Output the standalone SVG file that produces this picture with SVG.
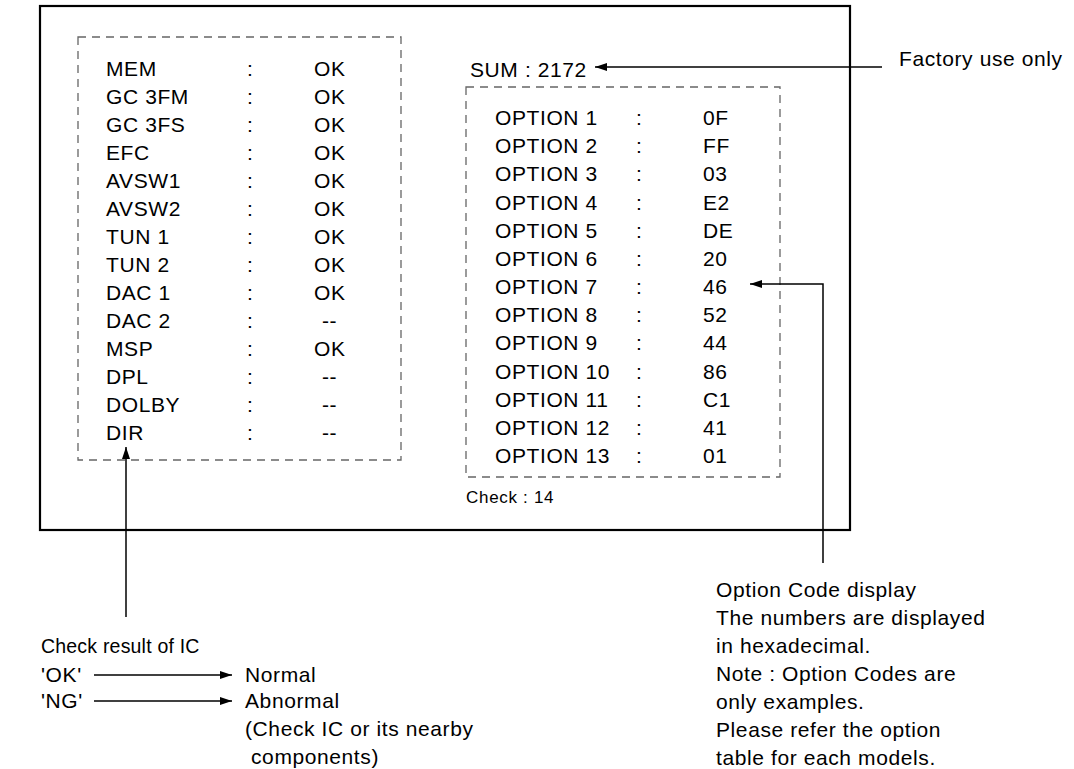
<svg xmlns="http://www.w3.org/2000/svg" width="1074" height="769" viewBox="0 0 1074 769">
<style>
text{font-family:"Liberation Sans",Arial,sans-serif;font-size:21px;letter-spacing:0.6px;fill:#000}
.sm{font-size:17px;letter-spacing:0.7px}
.dash{fill:none;stroke:#666;stroke-width:1.3;stroke-dasharray:8 6}
.ln{fill:none;stroke:#000;stroke-width:1.5}
</style>
<defs>
<marker id="ah" viewBox="0 0 12 8" refX="12" refY="4" markerWidth="12" markerHeight="8" markerUnits="userSpaceOnUse" orient="auto">
<path d="M0,0 L12,4 L0,8 Z" fill="#000"/>
</marker>
</defs>
<g id="screen">
<rect x="40" y="6" width="810" height="524" fill="none" stroke="#000" stroke-width="2.2"/>
</g>
<g id="ic-list">
<rect class="dash" x="78" y="37" width="323" height="423"/>
<g>
<text x="106" y="76">MEM</text><text x="247" y="76">:</text><text x="314" y="76">OK</text>
<text x="106" y="104">GC 3FM</text><text x="247" y="104">:</text><text x="314" y="104">OK</text>
<text x="106" y="132">GC 3FS</text><text x="247" y="132">:</text><text x="314" y="132">OK</text>
<text x="106" y="160">EFC</text><text x="247" y="160">:</text><text x="314" y="160">OK</text>
<text x="106" y="188">AVSW1</text><text x="247" y="188">:</text><text x="314" y="188">OK</text>
<text x="106" y="216">AVSW2</text><text x="247" y="216">:</text><text x="314" y="216">OK</text>
<text x="106" y="244">TUN 1</text><text x="247" y="244">:</text><text x="314" y="244">OK</text>
<text x="106" y="272">TUN 2</text><text x="247" y="272">:</text><text x="314" y="272">OK</text>
<text x="106" y="300">DAC 1</text><text x="247" y="300">:</text><text x="314" y="300">OK</text>
<text x="106" y="328">DAC 2</text><text x="247" y="328">:</text><text x="322" y="328">--</text>
<text x="106" y="356">MSP</text><text x="247" y="356">:</text><text x="314" y="356">OK</text>
<text x="106" y="384">DPL</text><text x="247" y="384">:</text><text x="322" y="384">--</text>
<text x="106" y="412">DOLBY</text><text x="247" y="412">:</text><text x="322" y="412">--</text>
<text x="106" y="440">DIR</text><text x="247" y="440">:</text><text x="322" y="440">--</text>
</g>
</g>
<g id="sum">
<text x="470" y="77">SUM : 2172</text>
</g>
<g id="option-list">
<rect class="dash" x="466" y="87" width="314" height="390"/>
<text x="495" y="125">OPTION 1</text><text x="636" y="125">:</text><text x="703" y="125">0F</text>
<text x="495" y="153">OPTION 2</text><text x="636" y="153">:</text><text x="703" y="153">FF</text>
<text x="495" y="181">OPTION 3</text><text x="636" y="181">:</text><text x="703" y="181">03</text>
<text x="495" y="210">OPTION 4</text><text x="636" y="210">:</text><text x="703" y="210">E2</text>
<text x="495" y="238">OPTION 5</text><text x="636" y="238">:</text><text x="703" y="238">DE</text>
<text x="495" y="266">OPTION 6</text><text x="636" y="266">:</text><text x="703" y="266">20</text>
<text x="495" y="294">OPTION 7</text><text x="636" y="294">:</text><text x="703" y="294">46</text>
<text x="495" y="322">OPTION 8</text><text x="636" y="322">:</text><text x="703" y="322">52</text>
<text x="495" y="350">OPTION 9</text><text x="636" y="350">:</text><text x="703" y="350">44</text>
<text x="495" y="379">OPTION 10</text><text x="636" y="379">:</text><text x="703" y="379">86</text>
<text x="495" y="407">OPTION 11</text><text x="636" y="407">:</text><text x="703" y="407">C1</text>
<text x="495" y="435">OPTION 12</text><text x="636" y="435">:</text><text x="703" y="435">41</text>
<text x="495" y="463">OPTION 13</text><text x="636" y="463">:</text><text x="703" y="463">01</text>
</g>
<g id="check">
<text class="sm" x="466" y="503">Check : 14</text>
</g>
<g id="factory-note">
<text x="899" y="66">Factory use only</text>
</g>
<g id="ic-legend">
<text x="41" y="653" style="font-size:19.5px;letter-spacing:0.2px">Check result of IC</text>
<text x="41" y="682">'OK'</text>
<text x="41" y="708">'NG'</text>
<text x="245" y="682">Normal</text>
<text x="245" y="708">Abnormal</text>
<text x="245" y="736">(Check IC or its nearby</text>
<text x="251" y="764">components)</text>
</g>
<g id="option-note">
<text x="716" y="597">Option Code display</text>
<text x="716" y="625">The numbers are displayed</text>
<text x="716" y="653">in hexadecimal.</text>
<text x="716" y="681">Note : Option Codes are</text>
<text x="716" y="709">only examples.</text>
<text x="716" y="737">Please refer the option</text>
<text x="716" y="765">table for each models.</text>
</g>
<g id="connectors">
<path class="ln" d="M882,67 H595" marker-end="url(#ah)"/>
<path class="ln" d="M823,563 V284 H750" marker-end="url(#ah)"/>
<path class="ln" d="M126,617 V447" marker-end="url(#ah)"/>
<path class="ln" d="M94,675 H232" marker-end="url(#ah)"/>
<path class="ln" d="M94,701 H232" marker-end="url(#ah)"/>
</g>
</svg>
